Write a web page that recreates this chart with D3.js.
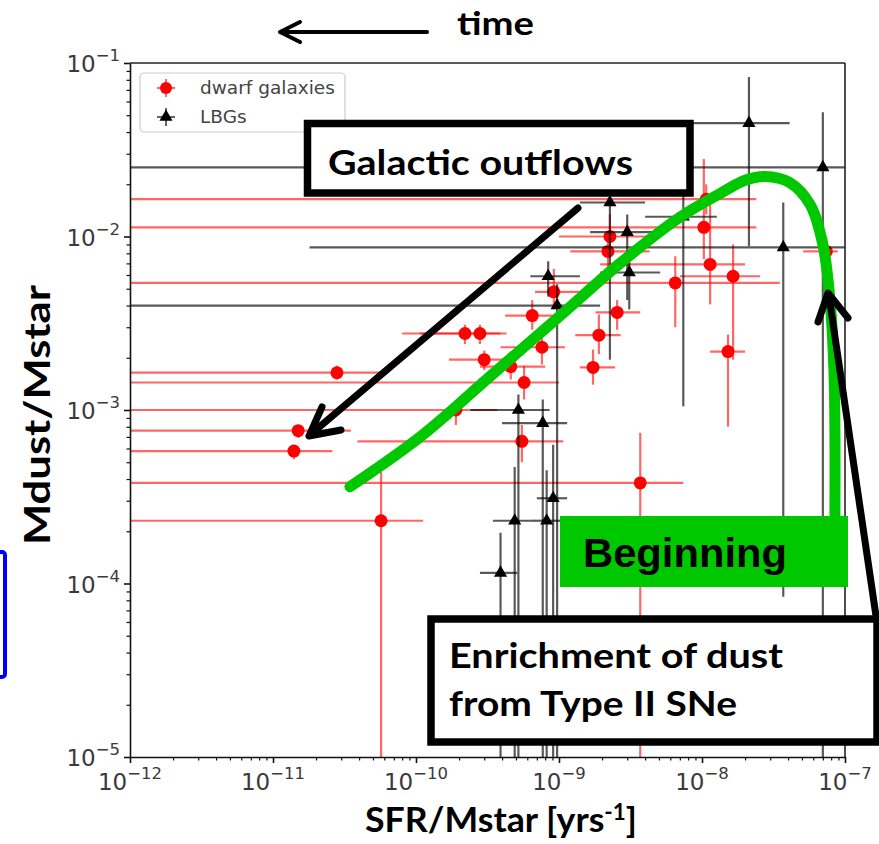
<!DOCTYPE html>
<html lang="en">
<head>
<meta charset="UTF-8">
<title>Mdust/Mstar vs SFR/Mstar</title>
<script src="https://d3js.org/d3.v7.min.js"></script>
<style>
  body { margin: 0; background: #fff; }
  svg { display: block; }
  .tick-label { font-family: "DejaVu Sans", sans-serif; fill: #3a3a3a; }
  .big { font-family: Lato, "Open Sans", sans-serif; font-weight: 700; fill: #000; }
</style>
</head>
<body>
<svg id="chart" width="879" height="844"></svg>
<script>
// dwarf galaxies (red): sSFR with its range, Mdust/Mstar with its range
const dwarfX   = [1.4e-11, 1.5e-11, 2.8e-11, 5.7e-11, 2.2e-10, 2.8e-10, 3.0e-10, 5.7e-10, 5.5e-10, 4.6e-10, 6.5e-10, 7.6e-10, 9.2e-10, 1.9e-10, 3.7e-9, 1.9e-9, 1.73e-9, 2.55e-9, 2.27e-9, 2.2e-9, 6.5e-9, 1.03e-8, 1.14e-8, 1.65e-8, 1.52e-8, 7.4e-8, 1.07e-8];
const dwarfXlo = [1e-13, 1e-13, 1e-13, 1e-13, 8.0e-11, 1.07e-10, 1.7e-10, 1e-13, 3.9e-11, 2.8e-10, 4.2e-10, 3.9e-10, 6.8e-10, 1e-13, 1e-13, 1.3e-9, 1.4e-9, 1.8e-9, 1.0e-9, 1.2e-9, 1e-13, 1e-13, 1.94e-9, 7.0e-9, 1.14e-8, 5.1e-8, 1e-13];
const dwarfXhi = [2.6e-11, 3.5e-11, 5.6e-11, 1.12e-10, 3.9e-10, 4.3e-10, 5.1e-10, 1.0e-9, 1.07e-9, 8.0e-10, 1.1e-9, 1.1e-9, 1.65e-9, 3.7e-10, 7.4e-9, 2.7e-9, 2.47e-9, 3.7e-9, 5.1e-9, 4.3e-9, 3.5e-8, 2.4e-8, 2.0e-8, 2.55e-8, 2.0e-8, 8.9e-8, 2.4e-8];
const dwarfY   = [5.8e-4, 7.6e-4, 1.64e-3, 2.3e-4, 2.76e-3, 2.76e-3, 1.95e-3, 1.44e-3, 6.6e-4, 1.78e-3, 3.5e-3, 2.3e-3, 4.8e-3, 1.0e-3, 3.8e-4, 2.7e-3, 1.76e-3, 3.65e-3, 1.0e-2, 8.2e-3, 5.4e-3, 1.13e-2, 6.9e-3, 5.9e-3, 2.17e-3, 8.2e-3, 1.64e-2];
const dwarfYlo = [5.2e-4, 6.9e-4, 1.5e-3, 1e-6, 2.4e-3, 2.4e-3, 1.7e-3, 1.15e-3, 5.0e-4, 1.5e-3, 2.9e-3, 1.83e-3, 3.8e-3, 8.2e-4, 1e-6, 2.1e-3, 1.4e-3, 2.9e-3, 7.9e-3, 6.0e-3, 3.0e-3, 7.4e-3, 4.06e-3, 1.95e-3, 8.0e-4, 6.6e-3, 1.34e-2];
const dwarfYhi = [6.3e-4, 8.2e-4, 1.8e-3, 4.4e-4, 3.1e-3, 3.1e-3, 2.2e-3, 1.8e-3, 8.2e-4, 2.17e-3, 4.3e-3, 2.9e-3, 6.5e-3, 1.07e-3, 7.4e-4, 3.55e-3, 2.23e-3, 4.3e-3, 1.34e-2, 9.6e-3, 7.7e-3, 2.8e-2, 1.64e-2, 9.0e-3, 2.72e-3, 9.9e-3, 2.0e-2];

// LBGs (black)
const lbgX   = [2.13e-8, 7.0e-8, 3.7e-8, 2.27e-9, 3.0e-9, 3.1e-9, 8.4e-10, 9.7e-10, 5.2e-10, 7.7e-10, 4.9e-10, 8.2e-10, 9.1e-10, 3.9e-10, 7.4e-9];
const lbgXlo = [1.4e-9, 1e-13, 1.8e-11, 1.4e-9, 1.65e-9, 1.94e-9, 6.3e-10, 1e-13, 2.4e-10, 4.0e-10, 3.45e-10, 6.3e-10, 7.0e-10, 2.8e-10, 4.0e-9];
const lbgXhi = [4.1e-8, 1e-6, 1e-6, 4.0e-9, 5.5e-9, 5.1e-9, 1.4e-9, 1.94e-9, 8.6e-10, 1.14e-9, 6.3e-10, 1.02e-9, 1.14e-9, 5.1e-10, 1.27e-8];
const lbgY   = [4.5e-2, 2.5e-2, 8.65e-3, 1.57e-2, 1.06e-2, 6.2e-3, 5.9e-3, 4.0e-3, 1.0e-3, 8.4e-4, 2.3e-4, 2.3e-4, 3.1e-4, 1.15e-4, 1.3e-2];
const lbgYlo = [8.8e-3, 1e-6, 8.4e-5, 1.95e-3, 4.3e-3, 3.8e-3, 4.5e-3, 1e-6, 1e-6, 1e-6, 1e-6, 1e-6, 1e-6, 1e-6, 1.05e-3];
const lbgYhi = [8.3e-2, 5.2e-2, 1.57e-2, 2.13e-2, 1.34e-2, 7.7e-3, 7.2e-3, 5.3e-3, 1.23e-3, 1.15e-3, 4.7e-4, 4.5e-4, 6.3e-4, 1.96e-4, 1.8e-2];

// sketched evolutionary track (green)
const trackX = [3.45e-11, 1.07e-10, 3.29e-10, 1.02e-9, 2.67e-9, 7.0e-9, 1.34e-8, 2.0e-8, 2.76e-8, 4.1e-8, 5.7e-8, 7.0e-8, 7.85e-8, 8.4e-8, 8.5e-8];
const trackY = [3.61e-4, 7.0e-4, 1.56e-3, 3.5e-3, 7.0e-3, 1.29e-2, 1.77e-2, 2.11e-2, 2.22e-2, 2.05e-2, 1.53e-2, 9.0e-3, 4.3e-3, 1.5e-3, 2.49e-4];

const xExps = [-12, -11, -10, -9, -8, -7];
const yExps = [-5, -4, -3, -2, -1];

const plot = { left: 130, right: 845, top: 63, bottom: 757 };
const svg = d3.select("#chart");

const x = d3.scaleLog().domain([1e-12, 1e-7]).range([plot.left, plot.right]);
const y = d3.scaleLog().domain([1e-5, 1e-1]).range([plot.bottom, plot.top]);

svg.append("defs").append("clipPath").attr("id", "plotClip")
  .append("rect")
  .attr("x", plot.left).attr("y", plot.top)
  .attr("width", plot.right - plot.left).attr("height", plot.bottom - plot.top);

const dwarfs = dwarfX.map((v, i) => ({ x: v, xlo: dwarfXlo[i], xhi: dwarfXhi[i], y: dwarfY[i], ylo: dwarfYlo[i], yhi: dwarfYhi[i] }));
const lbgs = lbgX.map((v, i) => ({ x: v, xlo: lbgXlo[i], xhi: lbgXhi[i], y: lbgY[i], ylo: lbgYlo[i], yhi: lbgYhi[i] }));

const dataG = svg.append("g").attr("clip-path", "url(#plotClip)");

function errorBars(g, rows, colour, op, cls) {
  g.selectAll("line.xe-" + cls).data(rows).join("line")
    .attr("class", "xe-" + cls)
    .attr("x1", d => x(d.xlo)).attr("x2", d => x(d.xhi))
    .attr("y1", d => y(d.y)).attr("y2", d => y(d.y))
    .attr("stroke", colour).attr("stroke-opacity", op).attr("stroke-width", 2.2);
  g.selectAll("line.ye-" + cls).data(rows).join("line")
    .attr("class", "ye-" + cls)
    .attr("x1", d => x(d.x)).attr("x2", d => x(d.x))
    .attr("y1", d => y(d.ylo)).attr("y2", d => y(d.yhi))
    .attr("stroke", colour).attr("stroke-opacity", op).attr("stroke-width", 2.2);
}

errorBars(dataG, dwarfs, "#ff0000", 0.6, "d");
dataG.selectAll("circle.dwarf").data(dwarfs).join("circle")
  .attr("class", "dwarf")
  .attr("cx", d => x(d.x)).attr("cy", d => y(d.y))
  .attr("r", 6.5).attr("fill", "#ff0000");

errorBars(dataG, lbgs, "#000", 0.65, "l");
const tri = d3.symbol().type(d3.symbolTriangle).size(75);
dataG.selectAll("path.lbg").data(lbgs).join("path")
  .attr("class", "lbg")
  .attr("transform", d => `translate(${x(d.x)},${y(d.y)})`)
  .attr("d", tri).attr("fill", "#000");

// axes with log minor ticks
const minorOf = exps => exps.slice(0, -1).flatMap(e => d3.range(2, 10).map(k => k * Math.pow(10, e)));
const xMajor = xExps.map(e => Math.pow(10, e));
const yMajor = yExps.map(e => Math.pow(10, e));

function styleAxis(g) {
  g.select(".domain").attr("stroke", "#111").attr("stroke-width", 1.6);
  g.selectAll(".tick line").attr("stroke", "#111");
}

svg.append("g").attr("transform", `translate(0,${plot.bottom})`)
  .call(d3.axisBottom(x).tickValues(minorOf(xExps)).tickSize(3.5).tickSizeOuter(0).tickFormat(""))
  .call(g => { g.select(".domain").remove(); g.selectAll(".tick line").attr("stroke", "#111").attr("stroke-width", 1.2); });
svg.append("g").attr("transform", `translate(0,${plot.bottom})`)
  .call(d3.axisBottom(x).tickValues(xMajor).tickSize(6).tickSizeOuter(0).tickFormat(""))
  .call(styleAxis)
  .call(g => g.selectAll(".tick line").attr("stroke-width", 1.6));

svg.append("g").attr("transform", `translate(${plot.left},0)`)
  .call(d3.axisLeft(y).tickValues(minorOf(yExps)).tickSize(3.5).tickSizeOuter(0).tickFormat(""))
  .call(g => { g.select(".domain").remove(); g.selectAll(".tick line").attr("stroke", "#111").attr("stroke-width", 1.2); });
svg.append("g").attr("transform", `translate(${plot.left},0)`)
  .call(d3.axisLeft(y).tickValues(yMajor).tickSize(6).tickSizeOuter(0).tickFormat(""))
  .call(styleAxis)
  .call(g => g.selectAll(".tick line").attr("stroke-width", 1.6));

// top and right spines
svg.append("line").attr("x1", plot.left).attr("x2", plot.right).attr("y1", plot.top).attr("y2", plot.top)
  .attr("stroke", "#222").attr("stroke-width", 1.6);
svg.append("line").attr("x1", plot.right).attr("x2", plot.right).attr("y1", plot.top).attr("y2", plot.bottom)
  .attr("stroke", "#222").attr("stroke-width", 1.6);

// tick labels 10^n
xExps.forEach(e => {
  const t = svg.append("text").attr("class", "tick-label")
    .attr("x", x(Math.pow(10, e))).attr("y", 790).attr("text-anchor", "middle").attr("font-size", 23);
  t.append("tspan").text("10");
  t.append("tspan").attr("dy", -11).attr("font-size", 16.5).text("\u2212" + Math.abs(e));
});
yExps.forEach(e => {
  const t = svg.append("text").attr("class", "tick-label")
    .attr("x", 120).attr("y", y(Math.pow(10, e)) + 9).attr("text-anchor", "end").attr("font-size", 23);
  t.append("tspan").text("10");
  t.append("tspan").attr("dy", -11).attr("font-size", 16.5).text("\u2212" + Math.abs(e));
});

// legend
const leg = svg.append("g");
leg.append("rect").attr("x", 140).attr("y", 73).attr("width", 205).attr("height", 59).attr("rx", 4)
  .attr("fill", "#fff").attr("fill-opacity", 0.8).attr("stroke", "#ccc").attr("stroke-width", 1.2);
leg.append("line").attr("x1", 157).attr("x2", 175).attr("y1", 88).attr("y2", 88).attr("stroke", "#ff0000").attr("stroke-opacity", 0.6).attr("stroke-width", 2);
leg.append("line").attr("x1", 166).attr("x2", 166).attr("y1", 79).attr("y2", 97).attr("stroke", "#ff0000").attr("stroke-opacity", 0.6).attr("stroke-width", 2);
leg.append("circle").attr("cx", 166).attr("cy", 88).attr("r", 6).attr("fill", "#ff0000");
leg.append("line").attr("x1", 157).attr("x2", 175).attr("y1", 117).attr("y2", 117).attr("stroke", "#000").attr("stroke-opacity", 0.6).attr("stroke-width", 2);
leg.append("line").attr("x1", 166).attr("x2", 166).attr("y1", 108).attr("y2", 126).attr("stroke", "#000").attr("stroke-opacity", 0.6).attr("stroke-width", 2);
leg.append("path").attr("transform", "translate(166,117)").attr("d", tri).attr("fill", "#000");
leg.append("text").attr("x", 200).attr("y", 94).attr("font-family", "DejaVu Sans, sans-serif").attr("font-size", 18.5).attr("fill", "#444").text("dwarf galaxies");
leg.append("text").attr("x", 200).attr("y", 123).attr("font-family", "DejaVu Sans, sans-serif").attr("font-size", 18.5).attr("fill", "#444").text("LBGs");

// axis titles
svg.append("text").attr("class", "big")
  .attr("transform", "translate(50,545) rotate(-90)")
  .attr("font-size", 37).attr("textLength", 260).attr("lengthAdjust", "spacingAndGlyphs")
  .text("Mdust/Mstar");
const xt = svg.append("text").attr("class", "big")
  .attr("x", 365).attr("y", 832).attr("font-size", 35)
  .attr("textLength", 272).attr("lengthAdjust", "spacingAndGlyphs");
xt.append("tspan").text("SFR/Mstar [yrs");
xt.append("tspan").attr("dy", -12).attr("font-size", 22).text("-1");
xt.append("tspan").attr("dy", 12).text("]");

// "time" arrow at the top
svg.append("line").attr("x1", 427).attr("x2", 281).attr("y1", 32).attr("y2", 32)
  .attr("stroke", "#000").attr("stroke-width", 4).attr("stroke-linecap", "round");
svg.append("polyline").attr("points", "300,22 280,32 300,42")
  .attr("fill", "none").attr("stroke", "#000").attr("stroke-width", 4).attr("stroke-linecap", "round").attr("stroke-linejoin", "round");
svg.append("text").attr("class", "big").attr("x", 457).attr("y", 35).attr("font-size", 32)
  .attr("textLength", 77).attr("lengthAdjust", "spacingAndGlyphs").text("time");

// blue box at the left edge
svg.append("rect").attr("x", -20).attr("y", 552).attr("width", 25).attr("height", 125).attr("rx", 3)
  .attr("fill", "none").attr("stroke", "#0000ff").attr("stroke-width", 4);

// green track
const trackLine = d3.line().x(d => x(d)).y((d, i) => y(trackY[i])).curve(d3.curveCatmullRom.alpha(0.5));
svg.append("path").attr("d", trackLine(trackX))
  .attr("fill", "none").attr("stroke", "#00c800").attr("stroke-width", 11)
  .attr("stroke-linecap", "round").attr("stroke-linejoin", "round");

// "Galactic outflows" callout
svg.append("rect").attr("x", 307.5).attr("y", 123.5).attr("width", 382.5).attr("height", 69.5)
  .attr("fill", "#fff").attr("stroke", "#000").attr("stroke-width", 7.5);
svg.append("text").attr("class", "big").attr("x", 328).attr("y", 175).attr("font-size", 35)
  .attr("textLength", 305).attr("lengthAdjust", "spacingAndGlyphs").text("Galactic outflows");
svg.append("line").attr("x1", 578).attr("y1", 208).attr("x2", 311).attr("y2", 434)
  .attr("stroke", "#000").attr("stroke-width", 7).attr("stroke-linecap", "round");
svg.append("polyline").attr("points", "322,407 309,436 341,430")
  .attr("fill", "none").attr("stroke", "#000").attr("stroke-width", 7).attr("stroke-linecap", "round").attr("stroke-linejoin", "round");

// "Beginning" label
svg.append("rect").attr("x", 560).attr("y", 516).attr("width", 288).attr("height", 71).attr("fill", "#00c800");
svg.append("text").attr("x", 583).attr("y", 567).attr("font-family", "Liberation Sans, Arial, sans-serif")
  .attr("font-weight", 700).attr("font-size", 40).attr("textLength", 204).attr("lengthAdjust", "spacingAndGlyphs")
  .text("Beginning");

// "Enrichment" callout
svg.append("rect").attr("x", 431).attr("y", 619).attr("width", 446).attr("height", 123)
  .attr("fill", "#fff").attr("stroke", "#000").attr("stroke-width", 7.5);
svg.append("text").attr("class", "big").attr("x", 449).attr("y", 668).attr("font-size", 35)
  .attr("textLength", 334).attr("lengthAdjust", "spacingAndGlyphs").text("Enrichment of dust");
svg.append("text").attr("class", "big").attr("x", 449).attr("y", 716).attr("font-size", 35)
  .attr("textLength", 288).attr("lengthAdjust", "spacingAndGlyphs").text("from Type II SNe");
svg.append("line").attr("x1", 876).attr("y1", 616).attr("x2", 829).attr("y2", 296)
  .attr("stroke", "#000").attr("stroke-width", 7).attr("stroke-linecap", "round");
svg.append("polyline").attr("points", "818,322 828,293 848,318")
  .attr("fill", "none").attr("stroke", "#000").attr("stroke-width", 7).attr("stroke-linecap", "round").attr("stroke-linejoin", "round");
</script>
</body>
</html>
